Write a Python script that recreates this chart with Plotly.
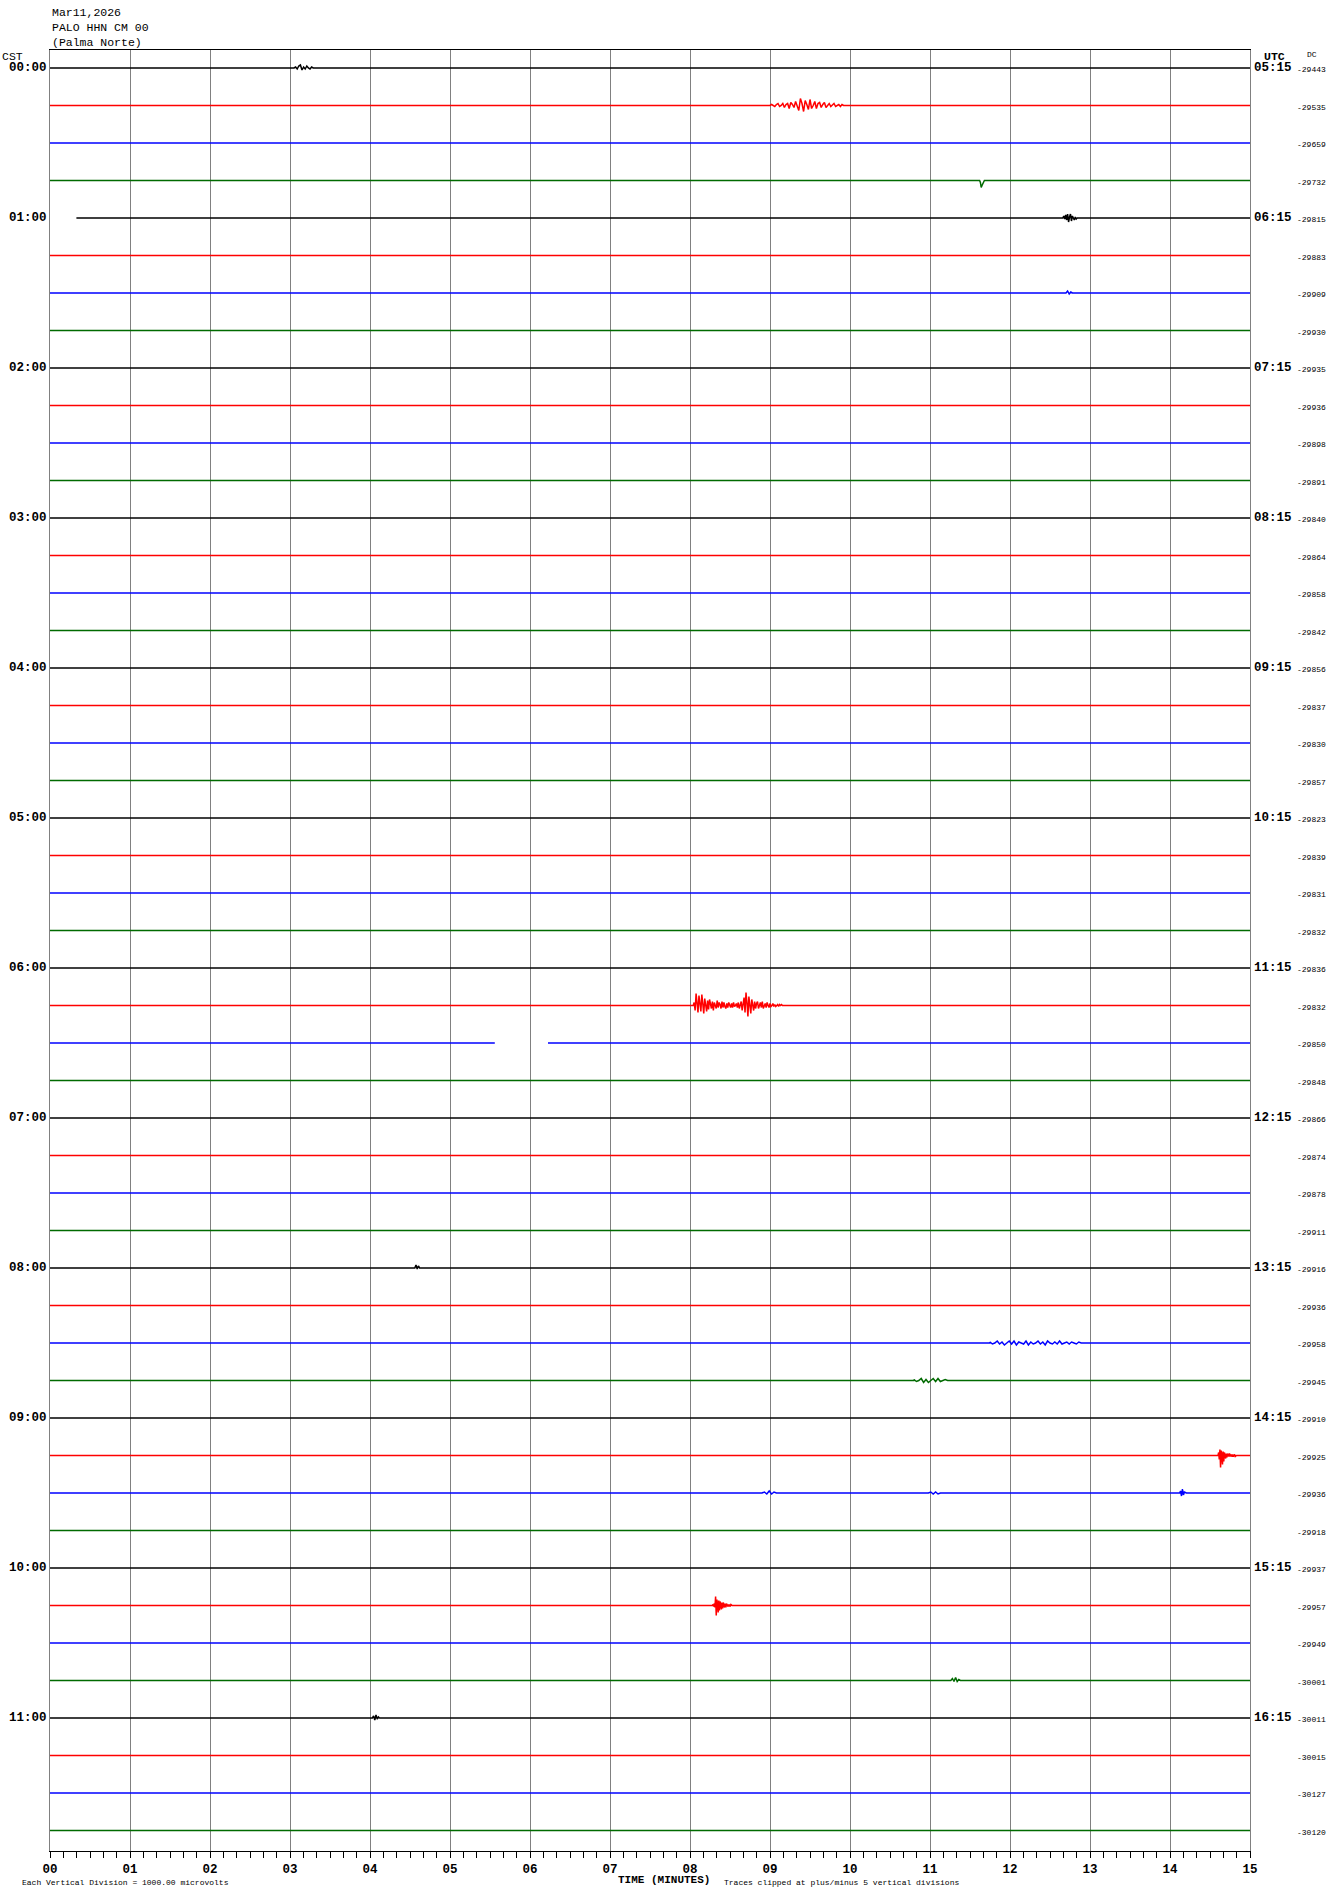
import plotly.graph_objects as go

# ---------------- data ----------------
TITLE_LINES = ["Mar11,2026", "PALO HHN CM 00", "(Palma Norte)"]
CST_LABELS = ["00:00", "01:00", "02:00", "03:00", "04:00", "05:00",
              "06:00", "07:00", "08:00", "09:00", "10:00", "11:00"]
UTC_LABELS = ["05:15", "06:15", "07:15", "08:15", "09:15", "10:15",
              "11:15", "12:15", "13:15", "14:15", "15:15", "16:15"]
DC_VALUES = [-29443, -29535, -29659, -29732, -29815, -29883, -29909, -29930,
             -29935, -29936, -29898, -29891, -29840, -29864, -29858, -29842,
             -29856, -29837, -29830, -29857, -29823, -29839, -29831, -29832,
             -29836, -29832, -29850, -29848, -29866, -29874, -29878, -29911,
             -29916, -29936, -29958, -29945, -29910, -29925, -29936, -29918,
             -29937, -29957, -29949, -30001, -30011, -30015, -30127, -30120]
TRACE_COLORS = ["#000000", "#ff0000", "#0000ff", "#006a00"]
MINUTE_TICKS = ["00", "01", "02", "03", "04", "05", "06", "07",
                "08", "09", "10", "11", "12", "13", "14", "15"]

# row start minute (late start) and data gaps (row, from, to) in minutes
ROW_START = {4: 0.33}
GAP_ROW = [26]
GAP_FROM = [5.56]
GAP_TO = [6.225]

# events: row, start minute, sample step (min), amplitudes (pixels, up = +)
EVENT_ROW = [0, 1, 3, 4, 6, 25, 32, 34, 35, 37, 38, 38, 38, 41, 43, 44]
EVENT_START = [3.05, 9.0, 11.62, 12.66, 12.70, 8.04, 4.56, 11.75, 10.80,
               14.60, 14.12, 8.90, 10.98, 8.28, 11.26, 4.03]
EVENT_STEP = [0.02, 0.02, 0.01, 0.012, 0.02, 0.012, 0.015, 0.03, 0.03,
              0.008, 0.012, 0.03, 0.03, 0.008, 0.02, 0.015]
EVENT_AMP = [
    [0, 1, -1, 2, 3, -2, 1, -1, 2, 0, -1, 1, 0],
    [0, 1, 0, -1, 1, 2, -1, 0, 2, -2, 1, 2, -3, 3, 1, -2, 4, -1, -5, 7, 2,
     -6, 5, 1, -4, 6, -3, 0, 4, -3, 2, 3, -2, 1, 3, -2, 0, 2, -1, 1, 2, -1,
     0, 1, -1, 1, 0, 0],
    [0, -2, -7, -5, -3, -1, 0],
    [0, 2, -1, 3, -2, 4, -4, 1, 4, -3, 2, 0, -2, 1, -1, 0],
    [0, 2, -1, 1, 0],
    [0, 3, -5, 12, 2, -7, 10, -3, -6, 11, 4, -8, 7, -2, -6, 5,
     -4, 6, 1, -3, 4, -5, 3, 0, -3, 5, -2, 3, 1, -3, 4, -2, 3, -1, -3, 2,
     -2, 3, 0, -2, 2, -2, 3, -1, 0, 2, -2, 3, -3, 1, 4, -5, 2,
     8, -7, 13, 3, -11, 9, -2, -8, 6, 1, -5, 4, -3, 2,
     4, -3, 0, 3, -2, 4, -3, 1, 2, -2, 3, 0, -2,
     2, -1, 0, 2, -1, 1, -1, 0, 1, -1, 1, 0, 1, 0, 0],
    [0, 3, -1, 2, 0],
    [1, -1, 0, 2, -1, 1, -2, 0, 2, -1, 2, -2, 1, 0, -1, 2, -2, 1, -1, 0, 2,
     -1, 1, -2, 2, 0, -1, 1, -1, 2, -1, 0, 1, -1, 1, 0, -1, 1, 0],
    [1, -1, 0, 2, -2, 1, -2, 0, 2, -1, 2, -1, 0, 1, 0],
    [0, 3, -4, 6, -12, 5, 1, -9, 4, -6, 3, 0, -3, 2, -2, 2, 0, -1, 2, -1,
     1, 0, -1, 1, -1, 0, 1, -1, 0],
    [0, 2, -3, 4, -2, 1, 0],
    [0, 1, -1, 2, -1, 1, 0],
    [0, 1, -1, 1, -1, 0],
    [0, 1, -1, 2, -2, 9, -10, 6, 2, -7, 5, -5, 4, 1, -4, 3, -3, 3, 0, -2,
     2, -2, 2, 0, -1, 1, -1, 1, -1, 1, 0, 0],
    [0, 2, -1, 3, -1, 1, 0],
    [0, 2, -2, 3, -1, 1, 0],
]

# ---------------- geometry ----------------
W, H = 1330, 1894
L, R, T, B = 50, 80, 50, 43
PLOT_W = W - L - R          # 1200
PLOT_H = H - T - B          # 1801
ROW_PX = 37.5
N_ROWS = len(DC_VALUES)
Y_TOP = 18 / ROW_PX
Y_BOT = -(N_ROWS - 1) - (PLOT_H - 18 - (N_ROWS - 1) * ROW_PX) / ROW_PX


def px_x(px):
    return (px - L) / PLOT_W


def px_y(py):
    return (H - B - py) / PLOT_H


fig = go.Figure()

for r in range(N_ROWS):
    pts = [(ROW_START.get(r, 0.0), 0.0), (15.0, 0.0)]
    for i, er in enumerate(EVENT_ROW):
        if er != r:
            continue
        s, st, amps = EVENT_START[i], EVENT_STEP[i], EVENT_AMP[i]
        pts.append((s - 0.001, 0.0))
        for k, a in enumerate(amps):
            pts.append((s + k * st, a))
        pts.append((s + len(amps) * st, 0.0))
    pts.sort(key=lambda p: p[0])
    xs, ys = [], []
    gaps = [(GAP_FROM[g], GAP_TO[g]) for g, gr in enumerate(GAP_ROW) if gr == r]
    gap_done = [False] * len(gaps)
    for (x, a) in pts:
        for gi, (g0, g1) in enumerate(gaps):
            if not gap_done[gi] and x >= g0:
                xs += [g0, None, g1]
                ys += [-r, None, -r]
                gap_done[gi] = True
        if any(g0 < x < g1 for g0, g1 in gaps):
            continue
        xs.append(min(x, 15.0))
        ys.append(-r + a / ROW_PX)
    fig.add_trace(go.Scatter(
        x=xs, y=ys, mode="lines", showlegend=False, hoverinfo="skip",
        line=dict(color=TRACE_COLORS[r % 4], width=1.5),
        connectgaps=False,
    ))

MONO = "Liberation Mono"
ann = []
for i, t in enumerate(TITLE_LINES):
    ann.append(dict(text=t, x=px_x(50), y=px_y(12 + i * 15), xanchor="left",
                    yanchor="middle", font=dict(size=11.5, family=MONO)))
ann.append(dict(text="CST", x=px_x(0), y=px_y(57), xanchor="left",
                yanchor="middle", font=dict(size=11.5, family=MONO)))
ann.append(dict(text="<b>UTC</b>", x=px_x(1262), y=px_y(57), xanchor="left",
                yanchor="middle", font=dict(size=11.5, family=MONO)))
ann.append(dict(text="DC", x=px_x(1305), y=px_y(54), xanchor="left",
                yanchor="middle", font=dict(size=8, family=MONO)))
for h in range(len(CST_LABELS)):
    ann.append(dict(text="<b>" + CST_LABELS[h] + "</b>", x=px_x(49), yref="y", y=-4 * h,
                    xanchor="right", yanchor="middle",
                    font=dict(size=12.5, family=MONO)))
    ann.append(dict(text="<b>" + UTC_LABELS[h] + "</b>", x=px_x(1252), yref="y", y=-4 * h,
                    xanchor="left", yanchor="middle",
                    font=dict(size=12.5, family=MONO)))
for r, v in enumerate(DC_VALUES):
    ann.append(dict(text=str(v), x=px_x(1295), yref="y", y=-r - 1.5 / ROW_PX,
                    xanchor="left", yanchor="middle",
                    font=dict(size=8, family=MONO)))
ann.append(dict(text="Each Vertical Division = 1000.00 microvolts",
                x=px_x(20), y=px_y(1882), xanchor="left", yanchor="middle",
                font=dict(size=8, family=MONO)))
ann.append(dict(text="<b>TIME (MINUTES)</b>", x=px_x(616), y=px_y(1880),
                xanchor="left", yanchor="middle",
                font=dict(size=11, family=MONO)))
ann.append(dict(text="Traces clipped at plus/minus 5 vertical divisions",
                x=px_x(722), y=px_y(1882), xanchor="left", yanchor="middle",
                font=dict(size=8, family=MONO)))
for a in ann:
    a.setdefault("xref", "paper")
    a.setdefault("yref", "paper")
    a["showarrow"] = False
    a["font"]["color"] = "#000000"

fig.update_layout(
    width=W, height=H,
    margin=dict(l=L, r=R, t=T, b=B, pad=0),
    paper_bgcolor="white", plot_bgcolor="white",
    annotations=ann,
    xaxis=dict(
        range=[0, 15], tickvals=list(range(16)), ticktext=MINUTE_TICKS,
        ticks="outside", ticklen=6, tickcolor="#000000", tickwidth=1,
        showline=True, linecolor="#000000", linewidth=1, mirror=True,
        showgrid=True, gridcolor="#808080", gridwidth=1, zeroline=False,
        tickfont=dict(size=12.5, family=MONO, color="#000000", weight="bold"),
        minor=dict(dtick=1 / 6, tick0=0, ticks="outside", ticklen=6,
                   tickcolor="#000000", showgrid=False),
        fixedrange=True,
    ),
    yaxis=dict(
        range=[Y_BOT, Y_TOP], showticklabels=False, ticks="",
        showgrid=False, zeroline=False, showline=True, linecolor="#808080",
        linewidth=1, mirror=True, fixedrange=True,
    ),
)

fig.write_html("out.html",
               config={"displayModeBar": False},
               post_script="document.body.style.margin='0';"
                           "document.body.style.padding='0';")
